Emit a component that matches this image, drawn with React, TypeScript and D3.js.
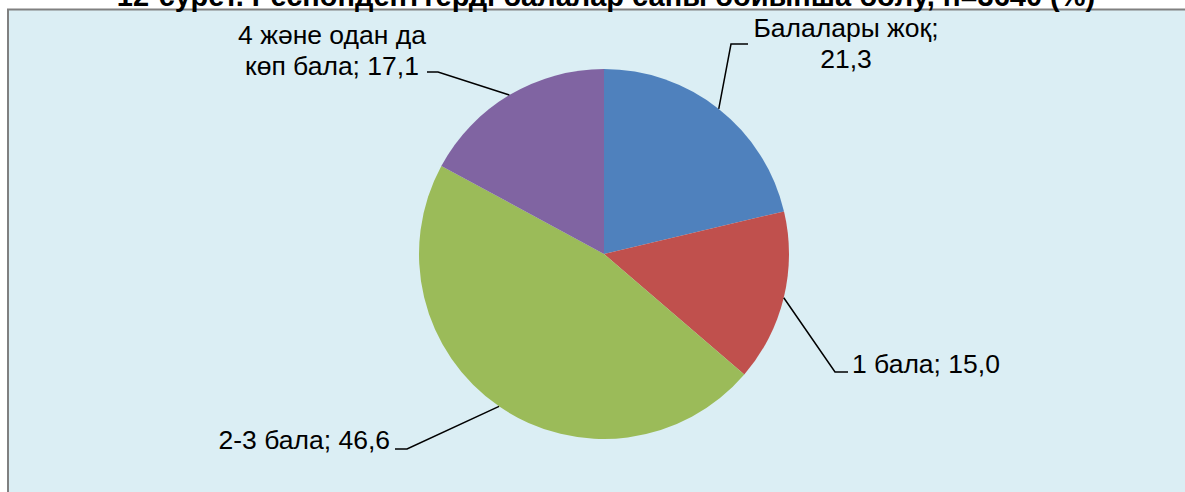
import React, { useEffect, useRef } from 'react';
import * as d3 from 'd3';

// data (%), clockwise from 12 o'clock
const categories = ['Балалары жоқ', '1 бала', '2-3 бала', '4 және одан да көп бала'];
const values = [21.3, 15.0, 46.6, 17.1];
const labelLines = [
  ['Балалары жоқ;', '21,3'],
  ['1 бала; 15,0'],
  ['2-3 бала; 46,6'],
  ['4 және одан да', 'көп бала; 17,1'],
];
const colors = ['#4F81BD', '#C0504D', '#9BBB59', '#8064A2'];
const title = '12-сурет. Респонденттерді балалар саны бойынша бөлу, n=3640 (%)';

// label layout: x,y of first baseline, anchor, and the elbow point of the leader
const labelLayout = [
  { x: 846, y: 37, anchor: 'middle', elbow: [731, 44], end: [748, 44] },
  { x: 852, y: 373, anchor: 'start', elbow: [835, 372], end: [848, 372] },
  { x: 390, y: 449, anchor: 'end', elbow: [407, 449], end: [395, 449] },
  { x: 332, y: 44, anchor: 'middle', elbow: [438, 72], end: [427, 72] },
];

const App = () => {
  const svgRef = useRef(null);

  useEffect(() => {
    const width = 1185;
    const height = 492;
    const cx = 604;
    const cy = 254;
    const radius = 185;

    const svg = d3.select(svgRef.current);
    svg.selectAll('*').remove();
    svg.attr('width', width).attr('height', height);

    svg.append('rect')
      .attr('x', 8)
      .attr('y', 9.5)
      .attr('width', width + 20)
      .attr('height', height + 20)
      .attr('fill', '#DBEEF4')
      .attr('stroke', '#808080')
      .attr('stroke-width', 2);

    svg.append('text')
      .attr('x', 606)
      .attr('y', 6)
      .attr('text-anchor', 'middle')
      .style('font-family', 'Arial, "Liberation Sans", sans-serif')
      .style('font-size', '29px')
      .style('font-weight', 'bold')
      .text(title);

    const data = categories.map((c, i) => ({ name: c, value: values[i], i }));
    const pie = d3.pie().sort(null).value((d) => d.value);
    const arcs = pie(data);
    const arc = d3.arc().innerRadius(0).outerRadius(radius);

    const g = svg.append('g').attr('transform', `translate(${cx},${cy})`);

    g.selectAll('path')
      .data(arcs)
      .enter()
      .append('path')
      .attr('d', arc)
      .attr('fill', (d) => colors[d.data.i]);

    // leader lines
    arcs.forEach((a) => {
      const mid = (a.startAngle + a.endAngle) / 2;
      const px = cx + radius * Math.sin(mid);
      const py = cy - radius * Math.cos(mid);
      const lay = labelLayout[a.data.i];
      svg.append('polyline')
        .attr('points', `${px},${py} ${lay.elbow[0]},${lay.elbow[1]} ${lay.end[0]},${lay.end[1]}`)
        .attr('fill', 'none')
        .attr('stroke', '#000')
        .attr('stroke-width', 1.5);
    });

    // labels
    labelLines.forEach((lines, i) => {
      const lay = labelLayout[i];
      const t = svg.append('text')
        .attr('text-anchor', lay.anchor)
        .style('font-family', 'Arial, "Liberation Sans", sans-serif')
        .style('font-size', '26.5px')
        .attr('fill', '#000');
      lines.forEach((line, j) => {
        t.append('tspan')
          .attr('x', lay.x)
          .attr('y', lay.y + j * 30.5)
          .text(line);
      });
    });
  }, []);

  return (
    <svg ref={svgRef} style={{ position: 'absolute', left: 0, top: 0 }}></svg>
  );
};

export default App;
